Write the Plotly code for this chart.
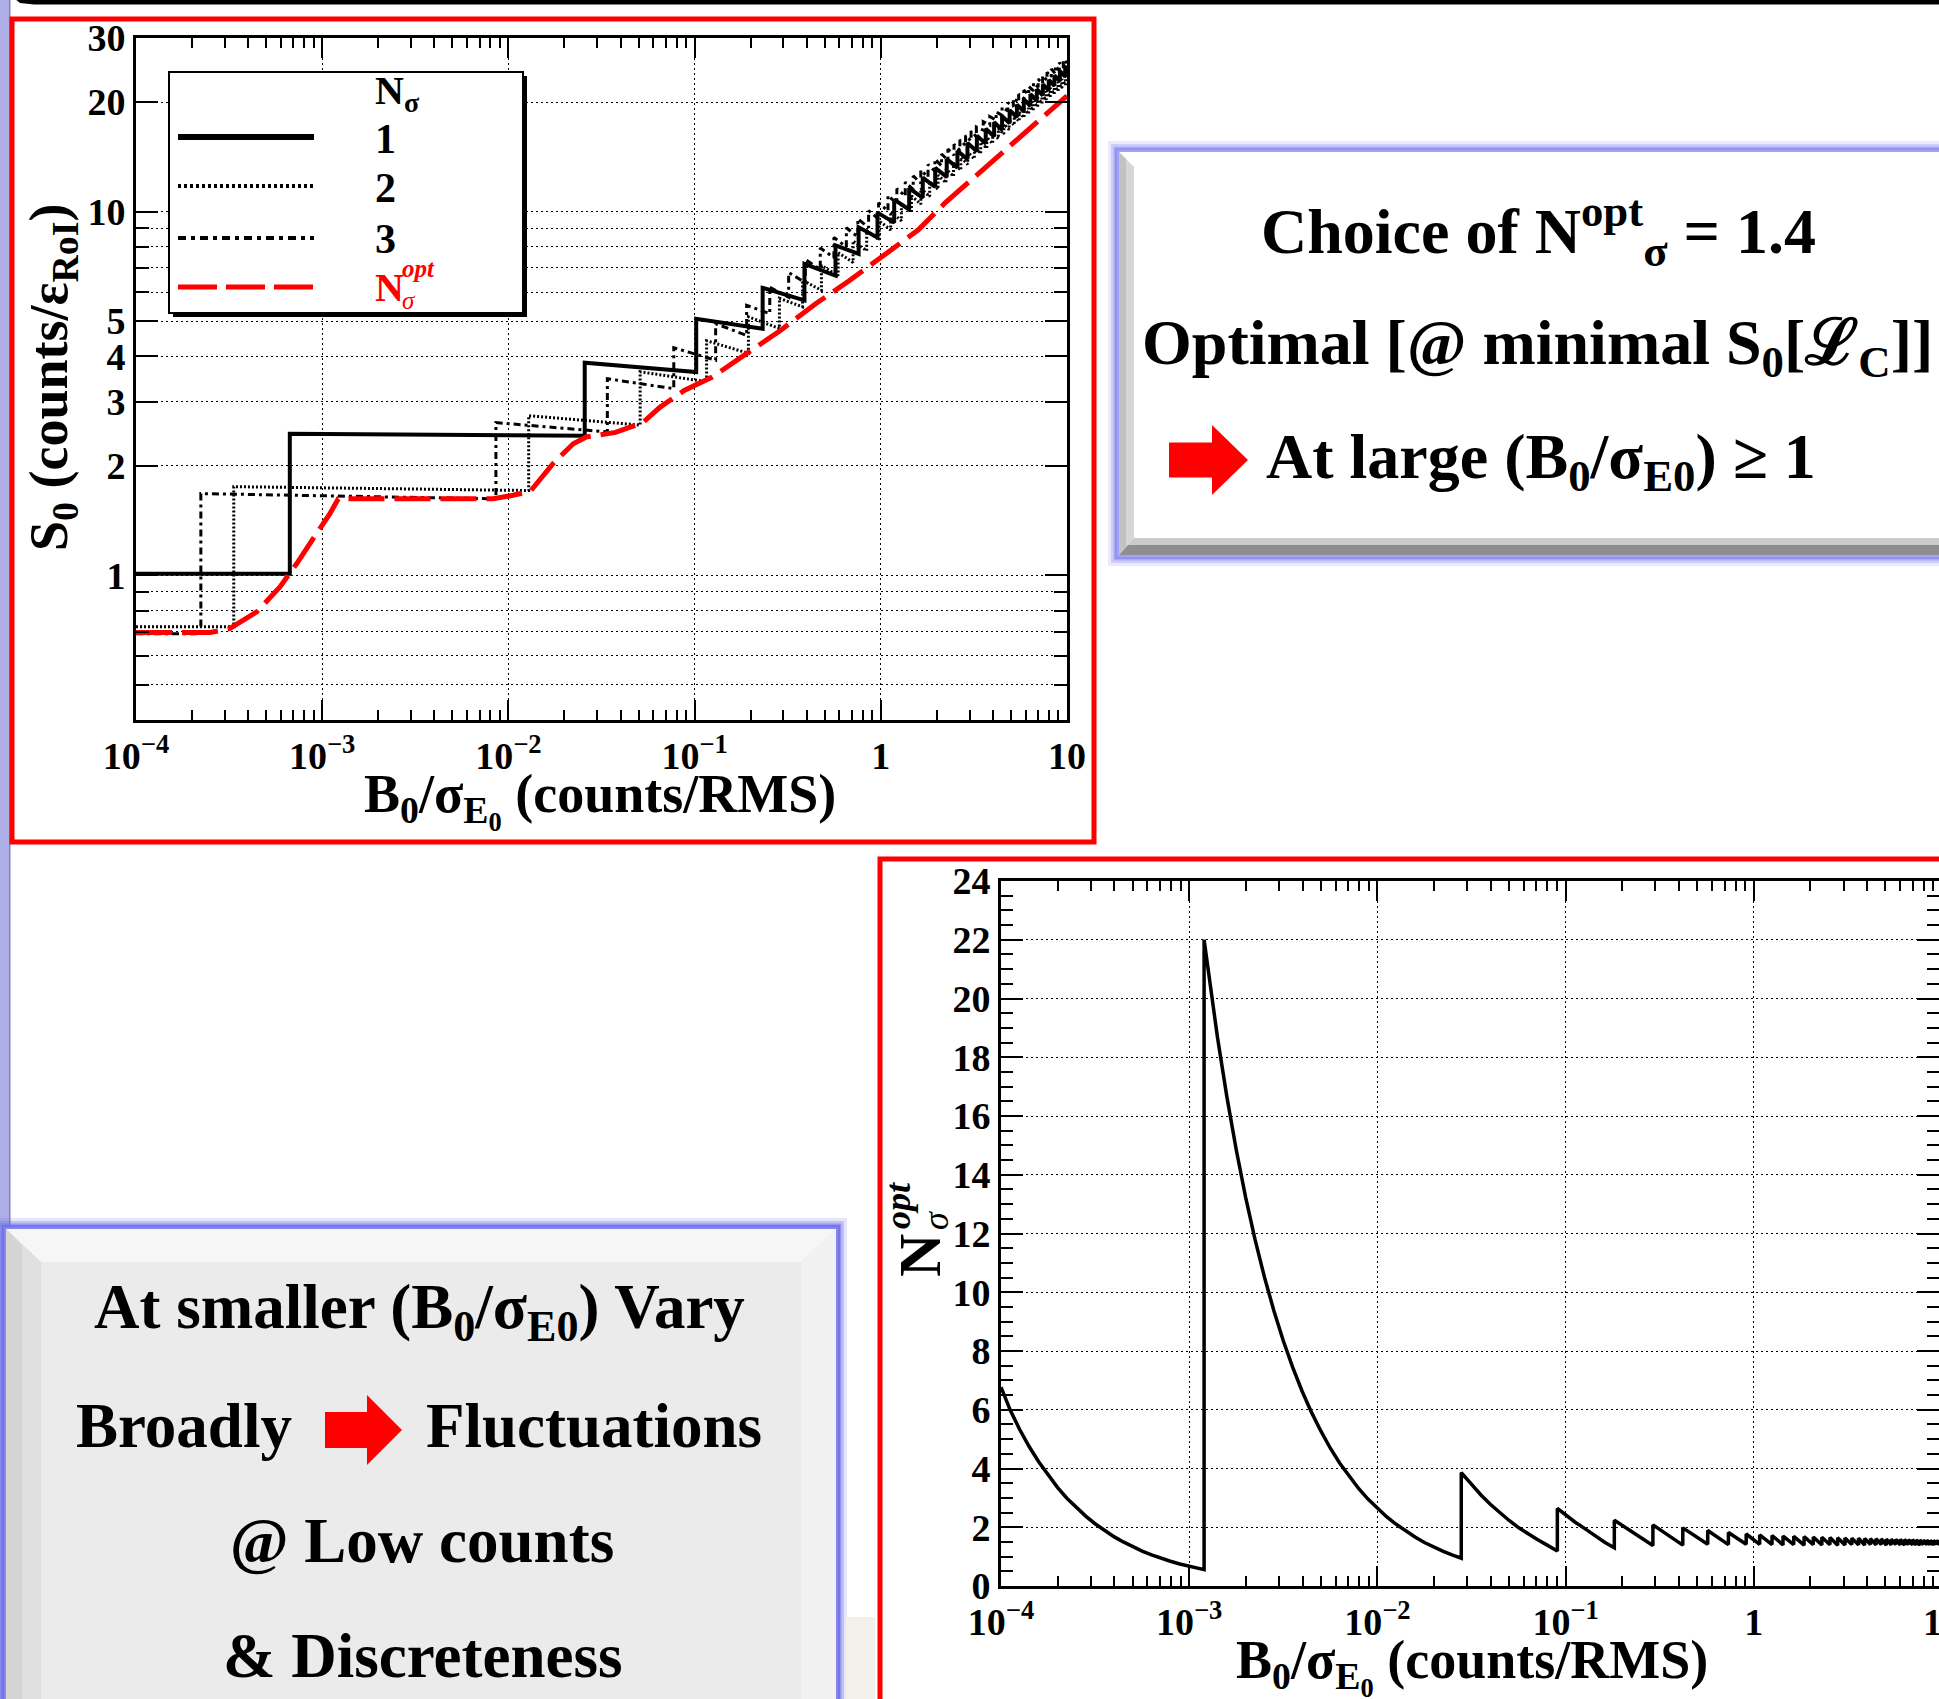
import plotly.graph_objects as go

W, H = 1939, 1699
SERIF = "Liberation Serif"

# ---------------- top panel: S0 vs B0/sigma_E0 ----------------
# each N_sigma curve: start point, jumps (x, value before, value after), end point
n1_start = (1e-4, 1.01)
n1_jump_x = [6.7e-4, 0.0257, 0.102, 0.232, 0.389, 0.571, 0.76, 0.96, 1.18, 1.42, 1.68, 1.96,
             2.26, 2.58, 2.92, 3.28, 3.66, 4.06, 4.48, 4.92, 5.38, 5.86, 6.36, 6.88, 7.42,
             7.98, 8.56, 9.16, 9.78]
n1_before = [1.01, 2.42, 3.62, 4.76, 5.70, 6.67, 7.65, 8.49, 9.32, 10.13, 10.91, 11.68,
             12.44, 13.19, 13.93, 14.65, 15.37, 16.09, 16.78, 17.48, 18.16, 18.85, 19.52,
             20.2, 20.86, 21.51, 22.17, 22.83, 23.48]
n1_after = [2.45, 3.84, 5.07, 6.17, 7.18, 8.07, 9.05, 9.93, 10.78, 11.6, 12.4, 13.18,
            13.95, 14.7, 15.44, 16.17, 16.89, 17.6, 18.3, 19.0, 19.68, 20.36, 21.03,
            21.7, 22.36, 23.01, 23.66, 24.31, 24.95]
n1_end = (10, 24.8)

n2_start = (1e-4, 0.722)
n2_jump_x = [3.35e-4, 0.01285, 0.051, 0.116, 0.1945, 0.2855, 0.38, 0.48, 0.59, 0.71, 0.84,
             0.98, 1.13, 1.29, 1.46, 1.64, 1.83, 2.03, 2.24, 2.46, 2.69, 2.93, 3.18, 3.44,
             3.71, 3.99, 4.28, 4.58, 4.89, 5.21, 5.54, 5.88, 6.23, 6.59, 6.96, 7.34, 7.73,
             8.13, 8.54, 8.96, 9.39, 9.83]
n2_before = [0.722, 1.71, 2.589, 3.404, 4.077, 4.770, 5.471, 6.072, 6.666, 7.245, 7.803,
             8.354, 8.897, 9.434, 9.963, 10.478, 10.993, 11.508, 12.001, 12.502, 12.988,
             13.482, 13.961, 14.447, 14.919, 15.384, 15.856, 16.328, 16.793, 17.27, 17.70,
             18.12, 18.54, 18.96, 19.40, 19.81, 20.22, 20.63, 21.04, 21.44, 21.84, 22.25]
n2_after = [1.752, 2.746, 3.626, 4.413, 5.135, 5.772, 6.473, 7.102, 7.71, 8.296, 8.868,
            9.426, 9.977, 10.513, 11.043, 11.565, 12.08, 12.588, 13.088, 13.589, 14.075,
            14.562, 15.041, 15.52, 15.992, 16.457, 16.922, 17.387, 17.844, 18.30, 18.75,
            19.19, 19.64, 20.08, 20.53, 20.96, 21.40, 21.83, 22.26, 22.69, 23.11, 23.54]
n2_end = (10, 23.4)

n3_start = (1e-4, 0.691)
n3_jump_x = [2.23e-4, 0.00857, 0.034, 0.0773, 0.1297, 0.1903, 0.2533, 0.32, 0.393, 0.473,
             0.56, 0.653, 0.753, 0.86, 0.973, 1.093, 1.22, 1.353, 1.493, 1.64, 1.793, 1.953,
             2.12, 2.293, 2.473, 2.66, 2.853, 3.053, 3.26, 3.55, 3.85, 4.16, 4.48, 4.81,
             5.15, 5.5, 5.86, 6.23, 6.61, 7.0, 7.4, 7.81, 8.23, 8.66, 9.1, 9.55]
n3_before = [0.691, 1.622, 2.478, 3.258, 3.902, 4.566, 5.236, 5.811, 6.380, 6.934, 7.468,
             7.995, 8.515, 9.029, 9.535, 10.028, 10.521, 11.014, 11.486, 11.965, 12.431,
             12.903, 13.362, 13.827, 14.279, 14.724, 15.175, 15.627, 16.072, 16.75, 17.30,
             17.84, 18.38, 18.91, 19.43, 19.95, 20.46, 20.97, 21.47, 21.96, 22.45, 22.94,
             23.43, 23.91, 24.39, 24.86]
n3_after = [1.677, 2.628, 3.470, 4.223, 4.915, 5.524, 6.195, 6.797, 7.379, 7.940, 8.488,
            9.022, 9.549, 10.062, 10.569, 11.068, 11.561, 12.047, 12.526, 13.006, 13.471,
            13.936, 14.395, 14.854, 15.305, 15.750, 16.195, 16.640, 17.078, 17.67, 18.24,
            18.81, 19.38, 19.93, 20.48, 21.02, 21.56, 22.09, 22.61, 23.13, 23.65, 24.16,
            24.67, 25.17, 25.67, 26.16]
n3_end = (10, 25.6)

# optimal N_sigma envelope
opt_x = [1e-4, 2.5e-4, 3.2e-4, 4.45e-4, 5.93e-4, 7.3e-4, 9.33e-4, 1.10e-3, 1.22e-3, 8.3e-3,
         0.0106, 0.0131, 0.0174, 0.0223, 0.0262, 0.0376, 0.0527, 0.0653, 0.0879, 0.1,
         0.1236, 0.189, 0.289, 0.445, 0.676, 1.035, 1.585, 2.23, 3.16, 4.47, 6.31, 10]
opt_s = [0.696, 0.696, 0.714, 0.793, 0.929, 1.077, 1.302, 1.477, 1.624, 1.624, 1.659, 1.70,
         2.03, 2.30, 2.40, 2.47, 2.63, 2.90, 3.22, 3.33, 3.50, 4.06, 4.71, 5.57, 6.45, 7.57,
         8.89, 10.6, 12.4, 14.4, 16.8, 20.8]

# ---------------- bottom panel: N_sigma^opt vs B0/sigma_E0 ----------------
# smooth decays of the first teeth, point by point
nopt_x = [1e-4, 1.122e-4, 1.259e-4, 1.413e-4, 1.585e-4, 1.778e-4, 1.995e-4, 2.239e-4,
          2.512e-4, 2.818e-4, 3.162e-4, 3.548e-4, 3.981e-4, 4.467e-4, 5.012e-4, 5.623e-4,
          6.310e-4, 7.079e-4, 7.943e-4, 8.913e-4, 1e-3, 1.122e-3, 1.2e-3,
          1.2e-3, 1.259e-3, 1.413e-3, 1.585e-3, 1.778e-3, 1.995e-3, 2.239e-3, 2.512e-3,
          2.818e-3, 3.162e-3, 3.548e-3, 3.981e-3, 4.467e-3, 5.012e-3, 5.623e-3, 6.310e-3,
          7.079e-3, 7.943e-3, 8.913e-3, 0.01, 0.01122, 0.01259, 0.01413, 0.01585, 0.01778,
          0.01995, 0.02239, 0.02512, 0.0279,
          0.0279, 0.0316, 0.0355, 0.0398, 0.0447, 0.0501, 0.0562, 0.0631, 0.0708, 0.0794,
          0.0904,
          0.0904, 0.1, 0.112, 0.1294, 0.145, 0.162]
nopt_y = [6.77, 5.97, 5.32, 4.74, 4.23, 3.77, 3.36, 2.99, 2.67, 2.38, 2.12, 1.89, 1.68, 1.50,
          1.34, 1.19, 1.06, 0.946, 0.843, 0.751, 0.670, 0.597, 0.557,
          22.0, 20.97, 18.68, 16.66, 14.85, 13.23, 11.79, 10.51, 9.37, 8.35, 7.44, 6.63,
          5.91, 5.27, 4.69, 4.18, 3.73, 3.32, 2.96, 2.64, 2.35, 2.10, 1.87, 1.67, 1.48, 1.32,
          1.18, 1.05, 0.946,
          3.86, 3.46, 3.10, 2.78, 2.49, 2.23, 1.99, 1.78, 1.58, 1.40, 1.19,
          2.64, 2.42, 2.18, 1.91, 1.68, 1.48]
nopt_jump_x = [0.1815, 0.291, 0.4195, 0.569, 0.733, 0.911, 1.075, 1.25, 1.43, 1.63, 1.85,
               2.07, 2.3, 2.54, 2.79, 3.05, 3.32, 3.6, 3.88, 4.17, 4.46, 4.76, 5.06, 5.37,
               5.68, 6.0, 6.32, 6.64, 6.97, 7.3, 7.63, 7.97, 8.31, 8.65, 9.0, 9.35, 9.7]
nopt_before = [1.30, 1.38, 1.39, 1.42, 1.41, 1.42, 1.42, 1.41, 1.40, 1.41, 1.39, 1.41, 1.40,
               1.41, 1.39, 1.40, 1.41, 1.40, 1.39, 1.41, 1.40, 1.41, 1.39, 1.40, 1.41, 1.40,
               1.39, 1.41, 1.40, 1.40, 1.39, 1.41, 1.40, 1.40, 1.39, 1.41, 1.40]
nopt_after = [2.24, 2.08, 1.98, 1.89, 1.82, 1.77, 1.74, 1.72, 1.70, 1.69, 1.68, 1.67, 1.66,
              1.65, 1.64, 1.635, 1.63, 1.625, 1.62, 1.615, 1.61, 1.605, 1.60, 1.595, 1.59,
              1.59, 1.585, 1.58, 1.58, 1.575, 1.57, 1.57, 1.565, 1.56, 1.56, 1.555, 1.55]
nopt_end = (10, 1.45)

decade_vals = [1e-4, 1e-3, 1e-2, 1e-1, 1, 10]
decade_text = ["10<sup>\u22124</sup>", "10<sup>\u22123</sup>", "10<sup>\u22122</sup>",
               "10<sup>\u22121</sup>", "1", "10"]
s0_tick_vals = [1, 2, 3, 4, 5, 10, 20, 30]
s0_minor_vals = [0.5, 0.6, 0.7, 0.8, 0.9, 6, 7, 8, 9]


def step_path(start, jx, before, after, end):
    xs, ys = [start[0]], [start[1]]
    for x, b, a in zip(jx, before, after):
        xs += [x, x]
        ys += [b, a]
    xs.append(end[0])
    ys.append(end[1])
    return xs, ys


def X(px):
    return px / W


def Y(py):
    return 1 - py / H


fig = go.Figure()

for (st, jx, bf, af, en), dash, wid in [
    ((n1_start, n1_jump_x, n1_before, n1_after, n1_end), "solid", 4),
    ((n2_start, n2_jump_x, n2_before, n2_after, n2_end), "2px,2px", 3),
    ((n3_start, n3_jump_x, n3_before, n3_after, n3_end), "7px,4px,3px,4px", 3),
]:
    xs, ys = step_path(st, jx, bf, af, en)
    fig.add_trace(go.Scatter(x=xs, y=ys, mode="lines", xaxis="x", yaxis="y",
                             line=dict(color="black", width=wid, dash=dash),
                             showlegend=False, hoverinfo="skip"))

fig.add_trace(go.Scatter(x=opt_x, y=opt_s, mode="lines", xaxis="x", yaxis="y",
                         line=dict(color="#ff0000", width=5, dash="36px,10px"),
                         showlegend=False, hoverinfo="skip"))

bx, by = step_path((nopt_x[-1], nopt_y[-1]), nopt_jump_x, nopt_before, nopt_after, nopt_end)
fig.add_trace(go.Scatter(x=nopt_x + bx[1:], y=nopt_y + by[1:], mode="lines",
                         xaxis="x2", yaxis="y2",
                         line=dict(color="black", width=3.5),
                         showlegend=False, hoverinfo="skip"))

minor_log = [m * d for d in [1e-4, 1e-3, 1e-2, 1e-1, 1] for m in range(2, 10)]
grid = dict(showgrid=True, gridcolor="black", gridwidth=1, griddash="2px,3px")
frame = dict(showline=True, linewidth=3, linecolor="black", mirror="allticks",
             ticks="inside", tickcolor="black", tickwidth=2, zeroline=False,
             automargin=False)
tick_font = dict(family=SERIF, size=38, color="black", weight="bold")

fig.update_layout(
    width=W, height=H, margin=dict(l=0, r=0, t=0, b=0, pad=0, autoexpand=False),
    paper_bgcolor="white", plot_bgcolor="white",
    xaxis=dict(type="log", range=[-4, 1], domain=[X(136), X(1067)], anchor="y",
               tickmode="array", tickvals=decade_vals, ticktext=decade_text, ticklen=20,
               tickfont=tick_font,
               minor=dict(tickmode="array", tickvals=minor_log, ticks="inside", ticklen=10,
                          tickwidth=2, tickcolor="black", showgrid=False),
               **grid, **frame),
    yaxis=dict(type="log", range=[-0.39794, 1.47712], domain=[Y(720), Y(38)], anchor="x",
               tickmode="array", tickvals=s0_tick_vals, ticktext=[str(v) for v in s0_tick_vals],
               ticklen=22, tickfont=tick_font,
               minor=dict(tickmode="array", tickvals=s0_minor_vals, ticks="inside",
                          ticklen=13, tickwidth=2, tickcolor="black", showgrid=True,
                          gridcolor="black", gridwidth=1, griddash="2px,3px"),
               **grid, **frame),
    xaxis2=dict(type="log", range=[-4, 0.9841], domain=[X(1001), 1.0], anchor="y2",
                tickmode="array", tickvals=decade_vals, ticktext=decade_text, ticklen=20,
                tickfont=tick_font,
                minor=dict(tickmode="array", tickvals=minor_log, ticks="inside", ticklen=10,
                           tickwidth=2, tickcolor="black", showgrid=False),
                **grid, **frame),
    yaxis2=dict(range=[0, 24], domain=[Y(1586), Y(881)], anchor="x2",
                tickmode="linear", tick0=0, dtick=2, ticklen=22, tickfont=tick_font,
                minor=dict(dtick=0.5, ticks="inside", ticklen=12, tickwidth=2,
                           tickcolor="black", showgrid=False),
                **grid, **frame),
)

shapes = []


def rect(x0, y0, x1, y1, **kw):
    shapes.append(dict(type="rect", xref="paper", yref="paper",
                       x0=X(x0), x1=X(x1), y0=Y(y1), y1=Y(y0), **kw))


def poly(points, color):
    d = "M " + " L ".join(f"{X(px):.5f},{Y(py):.5f}" for px, py in points) + " Z"
    shapes.append(dict(type="path", xref="paper", yref="paper", path=d,
                       fillcolor=color, line=dict(width=0)))


def block_arrow(x0, x_neck, x_tip, y_mid, shaft_half, head_half, color="#ff0000"):
    poly([(x0, y_mid - shaft_half), (x_neck, y_mid - shaft_half), (x_neck, y_mid - head_half),
          (x_tip, y_mid), (x_neck, y_mid + head_half), (x_neck, y_mid + shaft_half),
          (x0, y_mid + shaft_half)], color)


def glow(x0, y0, x1, y1, fill, rgb):
    # soft bluish halo built from a few translucent outlines
    for wd, alpha in [(18, 0.18), (12, 0.3), (7, 0.5)]:
        rect(x0, y0, x1, y1, fillcolor="rgba(0,0,0,0)",
             line=dict(color=f"rgba({rgb},{alpha})", width=wd))
    rect(x0, y0, x1, y1, fillcolor=fill, line=dict(color=f"rgba({rgb},0.8)", width=4))


# slide decorations
rect(0, 0, 9, H, fillcolor="#aeaee6", line=dict(width=0))
rect(9, 0, 10.5, H, fillcolor="#7a82c8", line=dict(width=0))
poly([(14, -2), (W + 2, -2), (W + 2, 4.5), (34, 4.5), (20, 3), (14, -2)], "black")

# top-right text box
glow(1117, 150, 1995, 557, "white", "140,140,240")
poly([(1119, 152), (1134, 167), (1134, 538), (1119, 555)], "#d6d6d6")
poly([(1119, 152), (1126, 159), (1126, 546), (1119, 555)], "#c2c2c2")
poly([(1119, 555), (1134, 538), (1995, 538), (1995, 555)], "#cbcbcb")
poly([(1119, 555), (1128, 545), (1995, 545), (1995, 555)], "#8e8e8e")

# bottom-left text box
glow(4, 1227, 838, 1712, "#ebebeb", "110,110,235")
poly([(6, 1229), (836, 1229), (801, 1262), (41, 1262)], "#f6f6f6")
poly([(6, 1229), (41, 1262), (41, 1712), (6, 1712)], "#e0e0e0")
poly([(6, 1229), (22, 1245), (22, 1712), (6, 1712)], "#d4d4d4")
poly([(836, 1229), (801, 1262), (801, 1712), (836, 1712)], "#f1f1f1")
rect(846, 1617, 875, H + 5, fillcolor="#f2f0ea", line=dict(width=0))

# red frames around the panels
rect(12, 19, 1094, 842, fillcolor="rgba(0,0,0,0)", line=dict(color="#ff0000", width=5))
rect(880, 859, W + 20, H + 20, fillcolor="rgba(0,0,0,0)", line=dict(color="#ff0000", width=5))

# legend frame with shadow
rect(173, 76, 527, 317, fillcolor="black", line=dict(width=0))
rect(169, 72, 523, 313, fillcolor="white", line=dict(color="black", width=2))
for yy, col, wd, dsh in [(137, "black", 6, "solid"), (186, "black", 4, "3px,3px"),
                         (238, "black", 4, "8px,5px,4px,5px"), (287, "#ff0000", 5, "39px,9px")]:
    shapes.append(dict(type="line", xref="paper", yref="paper", x0=X(178), x1=X(314),
                       y0=Y(yy), y1=Y(yy), line=dict(color=col, width=wd, dash=dsh)))

block_arrow(1169, 1212, 1248, 460, 17.5, 35)
block_arrow(325, 367, 402, 1430, 18, 35)

fig.update_layout(shapes=shapes)

ann = []


def text(px, py, s, size, color="black", xanchor="center", angle=0, bold=True, italic=False):
    f = dict(family=SERIF, size=size, color=color)
    if bold:
        f["weight"] = "bold"
    if italic:
        f["style"] = "italic"
    ann.append(dict(x=X(px), y=Y(py), xref="paper", yref="paper", text=s, showarrow=False,
                    xanchor=xanchor, yanchor="middle", font=f, textangle=angle))


# axis titles
text(600, 800, "B<sub>0</sub>/\u03c3<sub>E<sub>0</sub></sub> (counts/RMS)", 54)
text(52, 378, "S<sub>0</sub> (counts/\u03b5<sub>RoI</sub>)", 54, angle=-90)
text(1472, 1666, "B<sub>0</sub>/\u03c3<sub>E<sub>0</sub></sub> (counts/RMS)", 54)
text(920, 1256, "N", 60, angle=-90)
text(898, 1206, "opt", 36, angle=-90, italic=True)
text(936, 1221, "\u03c3", 36, angle=-90, italic=True, bold=False)
# tick label of the last decade, sitting on the right edge of the lower panel
ann.append(dict(x=X(1001 + 5 * 188.2), y=Y(1622), xref="paper", yref="paper", text="10",
                showarrow=False, xanchor="center", yanchor="middle", font=tick_font))

# legend entries
text(373, 93, "N<sub>\u03c3</sub>", 40, xanchor="left")
text(373, 139, "1", 42, xanchor="left")
text(373, 188, "2", 42, xanchor="left")
text(373, 239, "3", 42, xanchor="left")
text(373, 287, "N", 40, color="#ff0000", xanchor="left")
text(400, 268, "opt", 25, color="#ff0000", xanchor="left", italic=True)
text(400, 300, "\u03c3", 25, color="#ff0000", xanchor="left", italic=True, bold=False)

# slide text
text(1538, 231, "Choice of N<sup>opt</sup><sub>\u03c3</sub> = 1.4", 64)
text(1537, 347, "Optimal [@ minimal S<sub>0</sub>[\u2112<sub>C</sub>]]", 64)
text(1264, 461, "At large (B<sub>0</sub>/\u03c3<sub>E0</sub>) \u2265 1", 64, xanchor="left")
text(419, 1311, "At smaller (B<sub>0</sub>/\u03c3<sub>E0</sub>) Vary", 63)
text(294, 1426, "Broadly", 63, xanchor="right")
text(424, 1426, "Fluctuations", 63, xanchor="left")
text(422, 1541, "@ Low counts", 63)
text(422, 1656, "&amp; Discreteness", 63)

fig.update_layout(annotations=ann)
fig.write_html("out.html")
